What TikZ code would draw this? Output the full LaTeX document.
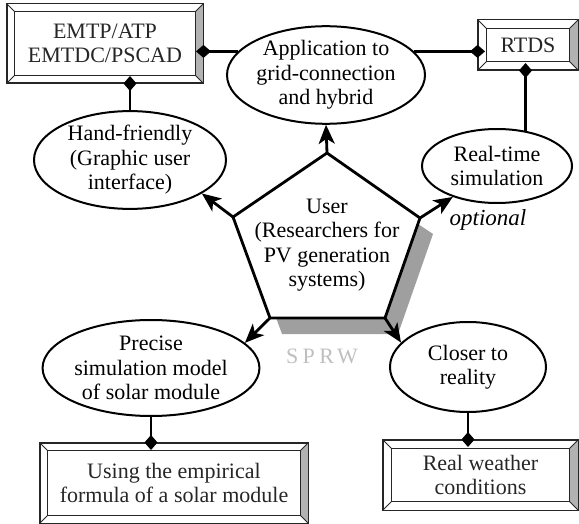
\documentclass[tikz,border=0pt]{standalone}
\usepackage{fontspec}
\setmainfont{Liberation Serif}
\newfontfamily\sprwfont[LetterSpace=20]{Liberation Serif}
\usetikzlibrary{shapes.geometric, arrows.meta}

% bevelled frame round a box node: name, inset
\newcommand{\bevel}[2]{%
  \fill[gray!60] (#1.north east) -- ([xshift=-#2, yshift=-#2]#1.north east)
    -- ([xshift=-#2, yshift=#2]#1.south east) -- (#1.south east) -- cycle;
  \draw[frameline] (#1.north west) rectangle (#1.south east);
  \draw[frameline] ([xshift=#2, yshift=-#2]#1.north west) rectangle ([xshift=-#2, yshift=#2]#1.south east);
  \draw[frameline] (#1.north west) -- ([xshift=#2, yshift=-#2]#1.north west);
  \draw[frameline] (#1.north east) -- ([xshift=-#2, yshift=-#2]#1.north east);
  \draw[frameline] (#1.south west) -- ([xshift=#2, yshift=#2]#1.south west);
  \draw[frameline] (#1.south east) -- ([xshift=-#2, yshift=#2]#1.south east);
}

\begin{document}
\begin{tikzpicture}[x=1pt, y=-1pt, every node/.style={font=\fontsize{22}{24.5}\selectfont, align=center}]

    \useasboundingbox (0,0) rectangle (579,524);

    \tikzset{frameline/.style={black!85, line width=1pt}}
    \tikzset{framebox/.style={rectangle, draw, frameline, inner sep=0pt}}
    \tikzset{bubble/.style={ellipse, draw, line width=2pt, inner sep=0pt}}
    \tikzset{pull/.style={-{Stealth[length=19pt, width=16pt, inset=5pt]}, line width=2.8pt}}
    \tikzset{link/.style={-{Diamond[length=15pt, width=13pt]}, line width=2.6pt, shorten >=-7.5pt}}

    % --- 1. Fuenfeck mit Schatten (User) ---
    \fill[gray!75] (339,171) -- (433,234) -- (398,334) -- (282,334) -- (245,233) -- cycle;
    \coordinate (p-top)   at (327,153);
    \coordinate (p-left)  at (233,217);
    \coordinate (p-right) at (420,218);
    \coordinate (p-bl)    at (270,318);
    \coordinate (p-br)    at (385,318);
    \filldraw[fill=white, draw=black, line width=2.8pt, line join=miter]
        (p-top) -- (p-right) -- (p-br) -- (p-bl) -- (p-left) -- cycle;
    \node (user) at (327,245) {User\\(Researchers for\\PV generation\\systems)};

    % --- 2. Ellipsen ---
    \node[bubble, minimum width=198pt, minimum height=94pt] (app) at (326,75) {Application to\\grid-connection\\and hybrid};
    \node[bubble, minimum width=192pt, minimum height=96pt] (hand) at (130,160) {Hand-friendly\\(Graphic user\\interface)};
    \node[bubble, minimum width=150pt, minimum height=74pt] (rt) at (497,166) {Real-time\\simulation};
    \node[bubble, minimum width=214pt, minimum height=96pt] (prec) at (151,368) {Precise\\simulation model\\of solar module};
    \node[bubble, minimum width=156pt, minimum height=90pt] (closer) at (468,367) {Closer to\\reality};

    % --- 3. Kaesten mit Rahmen ---
    \node[framebox, minimum width=196pt, minimum height=79pt] (emtp) at (105,43.5) {EMTP/ATP\\EMTDC/PSCAD};
    \node[framebox, minimum width=100pt, minimum height=50pt] (rtds) at (528,45) {RTDS};
    \node[framebox, minimum width=268pt, minimum height=80pt] (using) at (174,483) {Using the empirical\\formula of a solar module};
    \node[framebox, minimum width=195pt, minimum height=70pt] (weather) at (480.5,475) {Real weather\\conditions};
    \bevel{emtp}{8pt}
    \bevel{rtds}{9pt}
    \bevel{using}{8pt}
    \bevel{weather}{9pt}

    % --- 4. Pfeile vom Fuenfeck ---
    \draw[pull] (p-top) -- (app.south);
    \draw[pull] (p-left) -- (hand.-25);
    \draw[pull] (p-right) -- (rt.215);
    \draw[pull] (p-bl) -- (prec.15);
    \draw[pull] (p-br) -- (closer.160);

    % --- 5. Verbindungen zu den Kaesten ---
    \draw[link] (app.165) -- (app.165 -| emtp.east);
    \draw[link] (app.15) -- (app.15 -| rtds.west);
    \draw[link] (hand.north) -- (hand.north |- emtp.south);
    \draw[link] (rt.51) -- (rt.51 |- rtds.south);
    \draw[link] (prec.south) -- (prec.south |- using.north);
    \draw[link] (closer.south) -- (closer.south |- weather.north);

    % --- 6. Beschriftungen ---
    \node[font=\fontsize{23}{24}\selectfont\itshape] (txt-optional) at (488,220) {optional};
    \node[font=\fontsize{22}{24}\selectfont\sprwfont, text=gray!50] (txt-sprw) at (322,356) {SPRW};

\end{tikzpicture}
\end{document}
